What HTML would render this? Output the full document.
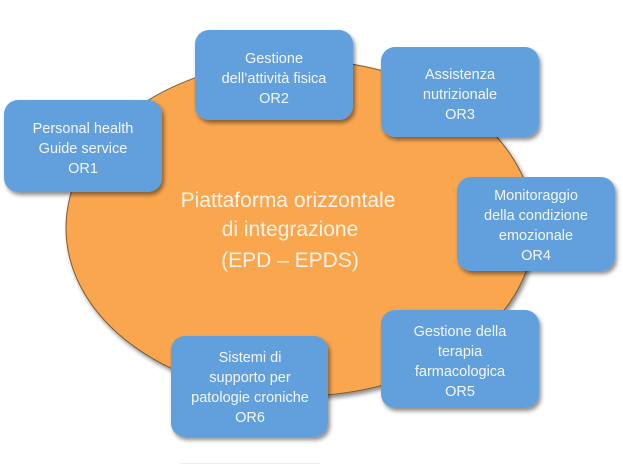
<!DOCTYPE html>
<html><head><meta charset="utf-8"><style>
html,body{margin:0;padding:0;background:#fff;}
svg{display:block;}
text{font-family:"Liberation Sans",Arial,sans-serif;}
</style></head><body>
<svg width="623" height="466" viewBox="0 0 623 466" xmlns="http://www.w3.org/2000/svg">
<defs>
<filter id="sh" x="-20%" y="-20%" width="140%" height="140%">
<feGaussianBlur in="SourceAlpha" stdDeviation="2"/>
<feOffset dx="2" dy="3" result="b"/>
<feComponentTransfer><feFuncA type="linear" slope="0.45"/></feComponentTransfer>
<feMerge><feMergeNode/><feMergeNode in="SourceGraphic"/></feMerge>
</filter>
</defs>
<ellipse cx="300" cy="228" rx="234" ry="168" fill="#F9A64F" stroke="#7a5a30" stroke-width="1" filter="url(#sh)"/>
<g font-size="21" fill="#FBF3E8" text-anchor="middle">
<text x="288" y="207">Piattaforma orizzontale</text>
<text x="290" y="236">di integrazione</text>
<text x="290" y="267">(EPD – EPDS)</text>
</g>
<g fill="#62A0DD" filter="url(#sh)">
<rect x="4" y="100" width="158" height="92" rx="14"/>
<rect x="195" y="30" width="158" height="90" rx="14"/>
<rect x="381" y="47" width="158" height="90" rx="14"/>
<rect x="457" y="177" width="158" height="94" rx="14"/>
<rect x="381" y="310" width="158" height="98" rx="14"/>
<rect x="171" y="336" width="157" height="101" rx="14"/>
</g>
<g font-size="14.5" fill="#F4F6F9" text-anchor="middle">
<text x="83" y="133">Personal health</text>
<text x="83" y="153">Guide service</text>
<text x="83" y="173">OR1</text>

<text x="274" y="63">Gestione</text>
<text x="274" y="83">dell’attività fisica</text>
<text x="274" y="103">OR2</text>

<text x="460" y="79">Assistenza</text>
<text x="460" y="99">nutrizionale</text>
<text x="460" y="119">OR3</text>

<text x="536" y="200">Monitoraggio</text>
<text x="536" y="220">della condizione</text>
<text x="536" y="240">emozionale</text>
<text x="536" y="260">OR4</text>

<text x="460" y="336">Gestione della</text>
<text x="460" y="356">terapia</text>
<text x="460" y="376">farmacologica</text>
<text x="460" y="396">OR5</text>

<text x="250" y="362">Sistemi di</text>
<text x="250" y="382">supporto per</text>
<text x="250" y="402">patologie croniche</text>
<text x="250" y="422">OR6</text>
</g>
<line x1="180" y1="463.5" x2="320" y2="463.5" stroke="#eeeeee" stroke-width="1"/>
</svg>
</body></html>
